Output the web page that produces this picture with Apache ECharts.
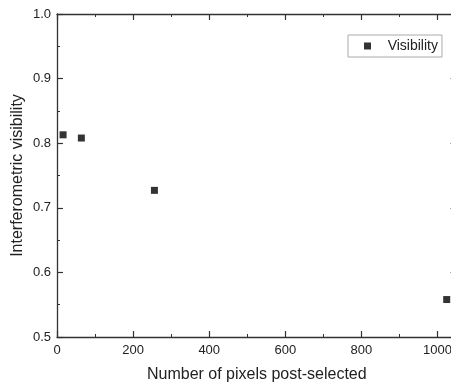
<!DOCTYPE html>
<html><head><meta charset="utf-8">
<script src="https://cdn.jsdelivr.net/npm/echarts@6/dist/echarts.min.js"></script>
<style>html,body{margin:0;padding:0;background:#fff}#c{width:451px;height:386px}</style>
</head><body><div id="c"></div>
<script>
const pixels = [16, 64, 256, 1024];
const visibility = [0.813, 0.808, 0.727, 0.558];
const xTicks = [0, 200, 400, 600, 800, 1000];
const yTicks = [0.5, 0.6, 0.7, 0.8, 0.9, 1.0];
const seriesName = 'Visibility';
const xTitle = 'Number of pixels post-selected';
const yTitle = 'Interferometric visibility';

const font = 'Liberation Sans, Arial, sans-serif';
const axisColor = '#333';
const baseAxis = {
  axisLine: {show: true, onZero: false, lineStyle: {color: axisColor, width: 1.3}},
  axisTick: {show: true, inside: true, length: 6, lineStyle: {color: axisColor, width: 1.2}},
  minorTick: {show: true, splitNumber: 2, length: 3, lineStyle: {color: axisColor, width: 1}},
  splitLine: {show: false}
};
const chart = echarts.init(document.getElementById('c'), null, {renderer: 'canvas'});
chart.setOption({
  animation: false,
  backgroundColor: '#fff',
  grid: {left: 57, top: 14, width: 399.6, height: 323, containLabel: false, outerBoundsMode: 'none'},
  legend: {
    data: [{name: seriesName, icon: 'rect'}],
    left: 348, top: 35,
    itemWidth: 7, itemHeight: 7, itemGap: 0,
    padding: [4, 4, 4, 16],
    borderColor: '#aaa', borderWidth: 1, borderRadius: 0,
    formatter: n => '   ' + n,
    textStyle: {fontFamily: font, fontSize: 14, color: '#222'}
  },
  xAxis: [
    Object.assign({}, baseAxis, {
      type: 'value', position: 'bottom', min: 0, max: 1050, interval: 200,
      name: xTitle, nameLocation: 'middle', nameGap: 30, nameMoveOverlap: false,
      nameTextStyle: {fontFamily: font, fontSize: 16, color: '#222'},
      axisLabel: {fontFamily: font, fontSize: 13, color: '#222', margin: 7,
        formatter: v => xTicks.indexOf(v) >= 0 ? String(v) : ''}
    }),
    Object.assign({}, baseAxis, {
      type: 'value', position: 'top', min: 0, max: 1050, interval: 200,
      axisLabel: {show: false}
    })
  ],
  yAxis: [
    Object.assign({}, baseAxis, {
      type: 'value', position: 'left', min: 0.5, max: 1.0, interval: 0.1,
      name: yTitle, nameLocation: 'middle', nameGap: 31, nameMoveOverlap: false,
      nameTextStyle: {fontFamily: font, fontSize: 16, color: '#222'},
      axisLabel: {fontFamily: font, fontSize: 13, color: '#222', margin: 6,
        formatter: v => yTicks.some(t => Math.abs(t - v) < 1e-9) ? v.toFixed(1) : ''}
    }),
    Object.assign({}, baseAxis, {
      type: 'value', position: 'right', min: 0.5, max: 1.0, interval: 0.1,
      axisLabel: {show: false}
    })
  ],
  series: [{
    name: seriesName, type: 'scatter', symbol: 'rect', symbolSize: 7,
    itemStyle: {color: '#000'},
    data: pixels.map((p, i) => [p, visibility[i]])
  }]
});
</script></body></html>
